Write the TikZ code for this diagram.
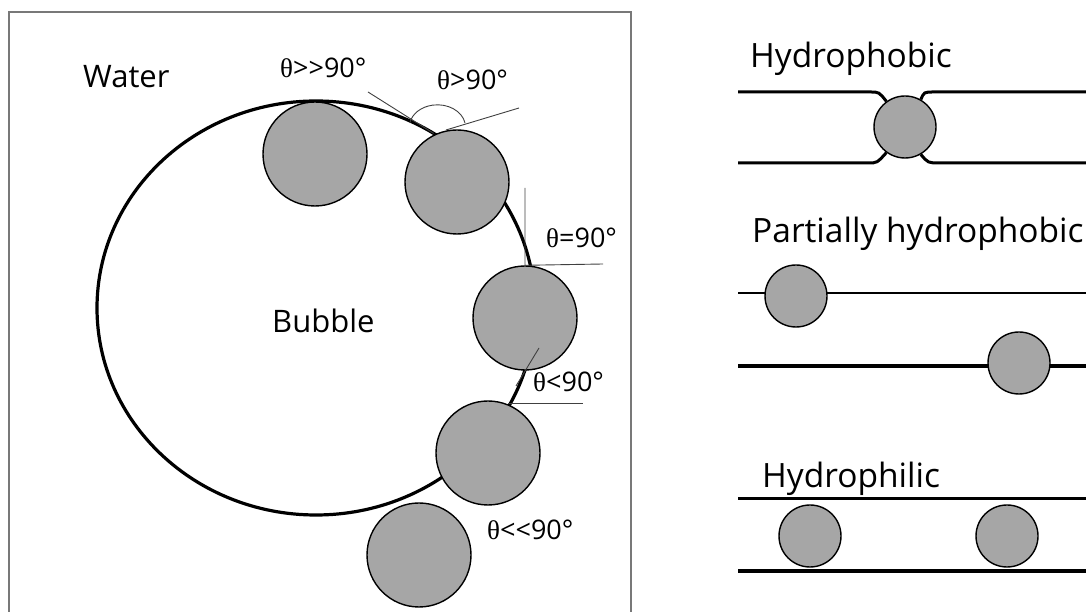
\documentclass[tikz,border=0pt]{standalone}
\usepackage{fontspec}
\setmainfont{Open Sans}
\newfontfamily\thetafont{Liberation Serif}
\definecolor{particlegray}{RGB}{166,166,166}
\definecolor{framegray}{RGB}{120,120,120}
\newcommand{\thet}{{\thetafont θ}}

\begin{document}
\begin{tikzpicture}[x=1pt,y=1pt,
      particle/.style={circle,draw,fill=particlegray,line width=1.4pt,
                       inner sep=0pt,minimum size=104pt},
      smallparticle/.style={particle,minimum size=62pt},
      bubbleline/.style={line width=3.2pt},
      guide/.style={line width=0.9pt,black!75},
      film/.style={line width=3pt},
      lbl/.style={font=\fontsize{31}{36}\selectfont,inner sep=0pt,anchor=base west},
      filmlbl/.style={lbl,font=\fontsize{33.5}{38}\selectfont},
      anglbl/.style={font=\fontsize{27}{32}\selectfont,inner sep=0pt,anchor=base west}]
    \useasboundingbox (0,0) rectangle (1086,612);
    % left panel: bubble in water
    \draw[framegray,line width=2pt] (9,-5) |- (631,600) -- (631,-5);
    \draw[bubbleline] (316,304) ellipse [x radius=219,y radius=207];
    \node[lbl] (water) at (83,524) {Water};
    \node[lbl] (bubble) at (272,279) {Bubble};
    \node[particle] (p1) at (315,458) {};
    \node[particle] (p2) at (457,430) {};
    \node[particle] (p3) at (525,294) {};
    \node[particle] (p4) at (488,159) {};
    \node[particle] (p5) at (419,57) {};
    % contact angles
    \coordinate (c2) at (433.7,478.6);
    \draw[guide] (c2) -- (368,520);
    \draw[guide] (446,482) -- (519,504);
    \draw[guide] (465,489) arc[start angle=10,end angle=170,x radius=28,y radius=22];
    \draw[guide] (525,424) -- (p3.north) -- (603,348);
    \draw[guide] (539,264) -- (516,226);
    \draw[guide] (508,209) -- (583,209);
    \node[anglbl] (a1) at (280,534) {\thet{}>{}>90°};
    \node[anglbl] (a2) at (437,522) {\thet{}>90°};
    \node[anglbl] (a3) at (546,364) {\thet{}=90°};
    \node[anglbl] (a4) at (533,220) {\thet{}<90°};
    \node[anglbl] (a5) at (487,72) {\thet{}<{}<90°};
    % right panel: films
    \node[filmlbl] (hphob) at (750,544) {Hydrophobic};
    \node[smallparticle] (hp) at (905,485) {};
    \draw[film] (738,520) -- (870,520) .. controls (879,520) .. (hp.126);
    \draw[film] (hp.60) .. controls (924,520) .. (934,520) -- (1090,520);
    \draw[film] (738,449) -- (868,449) .. controls (877,449) .. (hp.234);
    \draw[film] (hp.300) .. controls (928,449) .. (940,449) -- (1090,449);
    \node[filmlbl] (phob) at (752,369) {Partially hydrophobic};
    \draw[line width=2pt] (738,319) -- (1090,319);
    \draw[line width=3.5pt] (738,246) -- (1090,246);
    \node[smallparticle] (pp1) at (796,316) {};
    \node[smallparticle] (pp2) at (1019,249) {};
    \node[filmlbl] (hphil) at (762,124) {Hydrophilic};
    \draw[line width=3pt] (738,113) -- (1090,113);
    \draw[line width=4pt] (738,41) -- (1090,41);
    \node[smallparticle] (hl1) at (810,76) {};
    \node[smallparticle] (hl2) at (1007,76) {};
  \end{tikzpicture}
\end{document}
